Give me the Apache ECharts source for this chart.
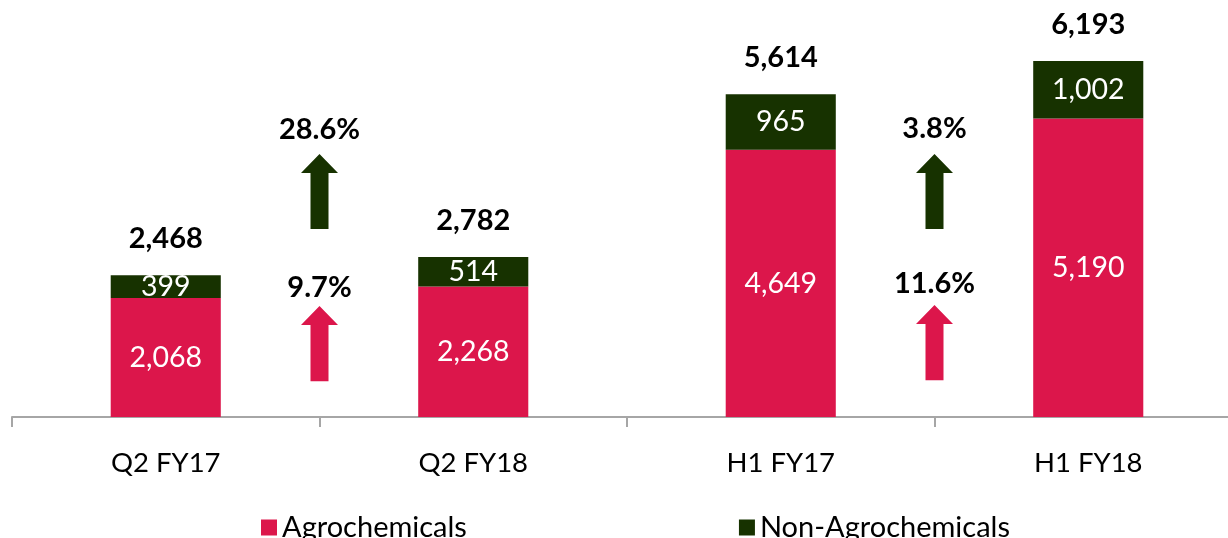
<!DOCTYPE html>
<html><head><meta charset="utf-8">
<script src="https://cdn.jsdelivr.net/npm/echarts@6/dist/echarts.min.js"></script>
<style>html,body{margin:0;padding:0;background:#fff}#c{width:1228px;height:538px}</style>
</head><body><div id="c"></div>
<script>
const categories = ['Q2 FY17', 'Q2 FY18', 'H1 FY17', 'H1 FY18'];
const agro = [2068, 2268, 4649, 5190];
const nonAgro = [399, 514, 965, 1002];
const totals = [2468, 2782, 5614, 6193];
// growth annotations: between category pairs (start index), label, series
const growthFrom = [0, 0, 2, 2];
const growthLabels = ['9.7%', '28.6%', '11.6%', '3.8%'];
const growthSeries = ['agro', 'non', 'agro', 'non'];

const FONT = 'Lato, "Open Sans", sans-serif';
const PINK = '#DC164B';
const GREEN = '#173200';
// arrow layout (value-space extent, label offset px) per growth annotation
const arrowLayout = [[620, 1930, 4], [3270, 4574, 10], [640, 1950, 7], [3270, 4574, 11]];

const chart = echarts.init(document.getElementById('c'));
chart.setOption({
  animation: false,
  textStyle: { fontFamily: FONT },
  grid: { left: 12, width: 1230, top: 14.5, bottom: 121, containLabel: false, outerBoundsMode: 'none' },
  legend: {
    left: 256, top: 508, itemWidth: 16, itemHeight: 16, itemGap: 272,
    icon: 'rect',
    textStyle: { fontSize: 29, color: '#000', fontFamily: FONT, padding: [0, 0, 0, 0] },
    data: ['Agrochemicals', 'Non-Agrochemicals']
  },
  xAxis: {
    type: 'category', data: categories,
    axisLine: { lineStyle: { color: '#a6a6a6', width: 2 } },
    axisTick: { show: true, length: 10, alignWithLabel: false, lineStyle: { color: '#a6a6a6', width: 2 } },
    axisLabel: { fontSize: 27.5, color: '#000', margin: 32, fontFamily: FONT }
  },
  yAxis: { type: 'value', min: 0, max: 7000, show: false, splitLine: { show: false } },
  series: [
    {
      name: 'Agrochemicals', type: 'bar', stack: 't', data: agro, barWidth: '35.8%',
      itemStyle: { color: PINK },
      label: { show: true, position: 'inside', color: '#fff', fontSize: 28.5, fontFamily: FONT,
        formatter: p => p.value.toLocaleString('en-US') }
    },
    {
      name: 'Non-Agrochemicals', type: 'bar', stack: 't', data: nonAgro, barWidth: '35.8%',
      itemStyle: { color: GREEN },
      label: { show: true, position: 'inside', color: '#fff', fontSize: 28.5, fontFamily: FONT,
        formatter: p => p.value.toLocaleString('en-US') }
    },
    {
      name: 'Total', type: 'bar', stack: 't', data: totals.map(() => 0), barWidth: '35.8%',
      itemStyle: { color: 'transparent' }, tooltip: { show: false },
      label: { show: true, position: 'top', distance: 22, color: '#000', fontSize: 29, fontWeight: 'bold', fontFamily: FONT,
        formatter: p => totals[p.dataIndex].toLocaleString('en-US') }
    },
    {
      name: 'growth', type: 'custom',
      data: growthFrom.map((f, i) => [f, arrowLayout[i][0], arrowLayout[i][1], i]),
      renderItem: function (params, api) {
        const f = api.value(0), i = api.value(3);
        const a = api.coord([f, api.value(1)]);
        const b = api.coord([f + 1, api.value(2)]);
        const x = (a[0] + b[0]) / 2;
        const yb = a[1], yt = b[1];
        const color = growthSeries[i] === 'agro' ? PINK : GREEN;
        const sw = 9, hw = 18.5, hh = 19;
        return {
          type: 'group',
          children: [
            { type: 'polygon', shape: { points: [
              [x - sw, yb], [x - sw, yt + hh], [x - hw, yt + hh], [x, yt],
              [x + hw, yt + hh], [x + sw, yt + hh], [x + sw, yb]] },
              style: { fill: color } },
            { type: 'text', style: { text: growthLabels[i], x: x, y: yt - arrowLayout[i][2],
              textAlign: 'center', textVerticalAlign: 'bottom',
              font: 'bold 29px ' + FONT, fill: '#000' } }
          ]
        };
      }
    }
  ]
});
</script></body></html>
